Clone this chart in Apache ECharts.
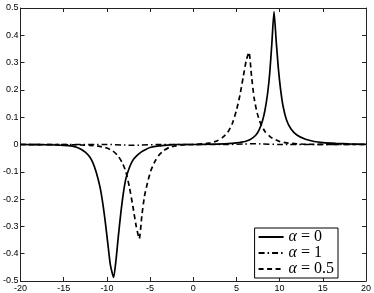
<!DOCTYPE html>
<html><head><meta charset="utf-8">
<script src="https://cdn.jsdelivr.net/npm/echarts@6/dist/echarts.min.js"></script>
<style>html,body{margin:0;padding:0;background:#fff}#c{width:374px;height:293px}</style>
</head><body><div id="c"></div>
<script>
// alpha = 0 (solid)
const xA0 = [-20,-17,-15,-14,-13.5,-13,-12.5,-12,-11.6,-11.2,-10.8,-10.5,-10.2,-9.9,-9.6,-9.22,-8.95,-8.7,-8.4,-8.1,-7.8,-7.4,-7,-6.5,-6,-5.5,-5,-4,-3,-2,0,2,4,5,6,6.6,7.2,7.6,8,8.3,8.6,8.85,9.1,9.35,9.6,9.85,10.1,10.4,10.8,11.3,12,13,14,15,16.5,18,20];
const yA0 = [0,-0.001,-0.003,-0.006,-0.01,-0.017,-0.028,-0.045,-0.068,-0.105,-0.155,-0.21,-0.28,-0.36,-0.44,-0.487,-0.425,-0.345,-0.255,-0.18,-0.125,-0.085,-0.058,-0.04,-0.027,-0.018,-0.011,-0.005,-0.002,0,0,0.001,0.003,0.006,0.011,0.018,0.033,0.052,0.085,0.125,0.185,0.26,0.37,0.487,0.38,0.28,0.205,0.14,0.09,0.058,0.035,0.019,0.011,0.007,0.004,0.002,0.001];
// alpha = 1 (dash-dot)
const xA1 = [-20,-10,-8,-7,-6,-4,0,4,6,7,8,10,20];
const yA1 = [0,0,-0.002,-0.003,-0.002,0,0,0,0.002,0.003,0.002,0,0];
// alpha = 0.5 (dashed)
const xA05 = [-20,-14,-12,-11,-10,-9.3,-8.7,-8.2,-7.8,-7.4,-7,-6.6,-6.25,-5.95,-5.65,-5.3,-4.9,-4.4,-4,-3.4,-2.8,-2,-1,0,1,2,2.8,3.4,4,4.5,5,5.4,5.8,6.15,6.45,6.75,7.05,7.4,7.8,8.3,9,10,11,13,20];
const yA05 = [0,-0.001,-0.003,-0.006,-0.013,-0.024,-0.042,-0.068,-0.1,-0.155,-0.225,-0.3,-0.345,-0.26,-0.19,-0.14,-0.095,-0.06,-0.04,-0.022,-0.011,-0.005,-0.001,0,0.002,0.006,0.014,0.026,0.045,0.075,0.125,0.18,0.25,0.31,0.338,0.25,0.17,0.115,0.077,0.048,0.026,0.011,0.005,0.001,0];

const seriesNames = ['α = 0','α = 1','α = 0.5'];
const xTicks = {min:-20,max:20,interval:5};
const yTicks = {min:-0.5,max:0.5,interval:0.1};

const pairs = (xs, ys) => xs.map((x,i)=>[x,ys[i]]);
const chart = echarts.init(document.getElementById('c'), null, {renderer:'canvas'});
const axisFont = {fontFamily:'Liberation Sans', fontSize:9, color:'#000'};
const axLine = {show:true, onZero:false, lineStyle:{color:'#222', width:1}};
const tick = {show:true, inside:true, length:4, lineStyle:{color:'#222'}};
chart.setOption({
  animation:false,
  grid:{left:17,right:7,top:8,bottom:10,containLabel:false},
  xAxis:[
    {type:'value', min:xTicks.min, max:xTicks.max, interval:xTicks.interval, axisLine:axLine, axisTick:tick, splitLine:{show:false},
     axisLabel:Object.assign({margin:3}, axisFont)},
    {type:'value', position:'top', min:xTicks.min, max:xTicks.max, interval:xTicks.interval, axisLine:axLine, axisTick:tick, splitLine:{show:false}, axisLabel:{show:false}}
  ],
  yAxis:[
    {type:'value', min:yTicks.min, max:yTicks.max, interval:yTicks.interval, axisLine:axLine, axisTick:tick, splitLine:{show:false},
     axisLabel:Object.assign({margin:2, formatter:v=>String(Math.round(v*10)/10)}, axisFont)},
    {type:'value', position:'right', min:yTicks.min, max:yTicks.max, interval:yTicks.interval, axisLine:axLine, axisTick:tick, splitLine:{show:false}, axisLabel:{show:false}}
  ],
  legend:{
    orient:'vertical', right:36, bottom:15, itemWidth:25, itemHeight:14, itemGap:0,
    padding:[1,4,1,3], backgroundColor:'#fff', borderColor:'#000', borderWidth:1, borderRadius:0,
    data:seriesNames,
    itemStyle:{color:'transparent', borderWidth:0},
    formatter:n=>'{i|α}{r|'+n.slice(1)+'}',
    textStyle:{color:'#000', rich:{
      i:{fontFamily:'Liberation Serif', fontStyle:'italic', fontSize:16, color:'#000', lineHeight:14},
      r:{fontFamily:'Liberation Serif', fontSize:16, color:'#000', lineHeight:14}
    }}
  },
  series:[
    {name:seriesNames[0], type:'line', data:pairs(xA0,yA0), symbol:'none', smooth:0.2, lineStyle:{color:'#000', width:1.7, type:'solid'}, itemStyle:{color:'#000'}},
    {name:seriesNames[1], type:'line', data:pairs(xA1,yA1), symbol:'none', smooth:0.2, lineStyle:{color:'#000', width:1.5, type:[6,3,1.5,3]}, itemStyle:{color:'#000'}},
    {name:seriesNames[2], type:'line', data:pairs(xA05,yA05), symbol:'none', smooth:0.2, lineStyle:{color:'#000', width:1.7, type:[5,3.5]}, itemStyle:{color:'#000'}}
  ]
});
</script></body></html>
